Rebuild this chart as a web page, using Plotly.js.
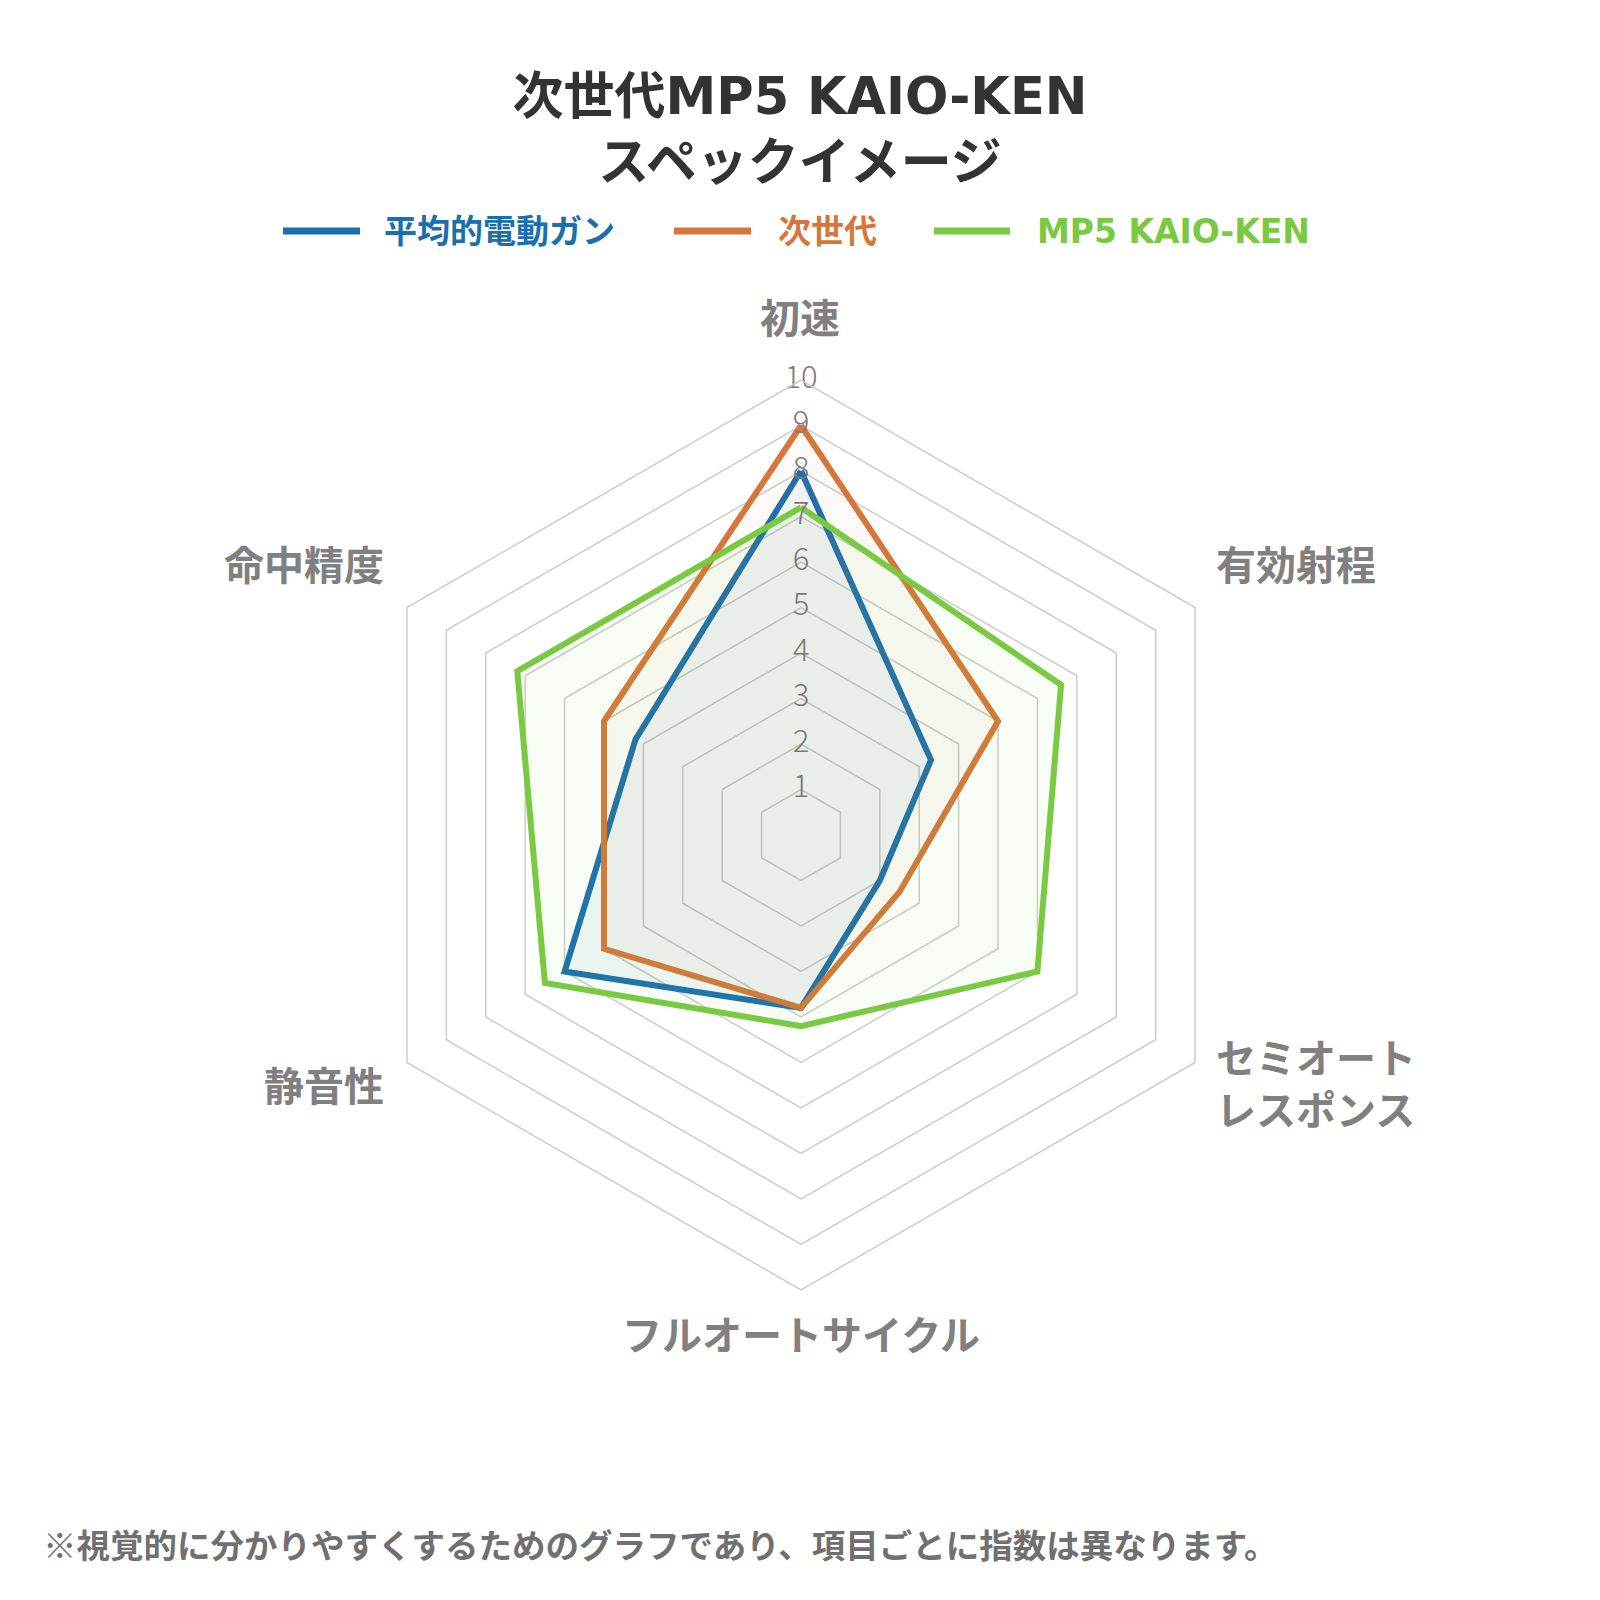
<!DOCTYPE html>
<html>
<head>
<meta charset="utf-8">
<script src="https://cdn.plot.ly/plotly-3.0.1.min.js"></script>
<style>
  body { margin: 0; background: #fff; }
  #chart { width: 1600px; height: 1600px; }
</style>
</head>
<body>
<div id="chart"></div>
<script>
// axes of the radar, clockwise from the top
var categories = ['初速', '有効射程', 'セミオート<br>レスポンス', 'フルオートサイクル', '静音性', '命中精度'];

var seriesNames = ['平均的電動ガン', '次世代', 'MP5 KAIO-KEN'];
var averageGun = [8, 3.3, 2, 3.8, 6, 4.2];
var nextGen = [9, 5, 2.5, 3.8, 5, 5];
var kaioken = [7.2, 6.6, 6, 4.2, 6.5, 7.2];

var tickValues = [1, 2, 3, 4, 5, 6, 7, 8, 9, 10];
var tickLabels = ['1', '2', '3', '4', '5', '6', '7', '8', '9', '10'];

var note = '※視覚的に分かりやすくするためのグラフであり、項目ごとに指数は異なります。';

var lineColors = ['#1b6fae', '#d5773a', '#7ac943'];
var fillColors = ['rgba(27,111,174,0.05)', 'rgba(213,119,58,0.045)', 'rgba(122,201,67,0.06)'];

var font = 'Noto Sans CJK JP, Noto Sans, sans-serif';
var mixedFont = 'DejaVu Sans, Noto Sans CJK JP, sans-serif';

// page pixels -> paper fractions (margins are zero)
function px(x) { return x / 1600; }
function py(y) { return 1 - y / 1600; }

function closed(arr) { return arr.concat([arr[0]]); }

var values = [averageGun, nextGen, kaioken];
var data = [];
for (var i = 0; i < values.length; i++) {
  data.push({
    type: 'scatterpolar',
    mode: 'lines',
    name: seriesNames[i],
    r: closed(values[i]),
    theta: closed(categories),
    fill: 'toself',
    fillcolor: fillColors[i],
    line: {color: lineColors[i], width: 6},
    hoverinfo: 'skip',
    showlegend: false
  });
}

// scale numbers sit on the top spoke, above the lines
data.push({
  type: 'scatterpolar',
  mode: 'text',
  r: tickValues,
  theta: tickValues.map(function () { return categories[0]; }),
  text: tickLabels,
  textposition: 'middle center',
  textfont: {family: font, size: 31, color: '#7a7a7a', weight: 300},
  hoverinfo: 'skip',
  showlegend: false
});

var labelFont = {family: font, size: 40, color: '#808080', weight: 'bold'};
var annotations = [
  {text: categories[0], x: px(800), y: py(316), xanchor: 'center'},
  {text: categories[1], x: px(1214), y: py(563), xanchor: 'left'},
  {text: categories[2], x: px(1214), y: py(1082), xanchor: 'left', align: 'left'},
  {text: categories[3], x: px(801), y: py(1333), xanchor: 'center'},
  {text: categories[4], x: px(386), y: py(1084), xanchor: 'right'},
  {text: categories[5], x: px(386), y: py(563), xanchor: 'right'}
].map(function (a) {
  a.xref = 'paper'; a.yref = 'paper'; a.yanchor = 'middle'; a.showarrow = false;
  a.font = labelFont;
  return a;
});

// legend drawn by hand so the swatches are long and the names coloured
var legendLine = [[283, 360], [674, 751], [934, 1010]];
var legendText = [382, 776, 1035];
var shapes = [];
for (var j = 0; j < seriesNames.length; j++) {
  shapes.push({
    type: 'line', xref: 'paper', yref: 'paper',
    x0: px(legendLine[j][0]), x1: px(legendLine[j][1]), y0: py(231), y1: py(231),
    line: {color: lineColors[j], width: 7}
  });
  annotations.push({
    text: seriesNames[j], xref: 'paper', yref: 'paper', showarrow: false,
    x: px(legendText[j]), y: py(231), xanchor: 'left', yanchor: 'middle',
    font: {family: mixedFont, size: 33, color: lineColors[j], weight: 'bold'}
  });
}

annotations.push({
  text: note, xref: 'paper', yref: 'paper', showarrow: false,
  x: px(41), y: py(1543), xanchor: 'left', yanchor: 'middle',
  font: {family: font, size: 33.5, color: '#707070', weight: 'bold'}
});

var layout = {
  width: 1600,
  height: 1600,
  margin: {l: 0, r: 0, t: 0, b: 0},
  paper_bgcolor: '#ffffff',
  showlegend: false,
  title: {
    text: '次世代MP5 KAIO-KEN<br>スペックイメージ',
    x: 0.5, xanchor: 'center',
    y: 1 - 114 / 1600, yanchor: 'middle', yref: 'container',
    font: {family: mixedFont, size: 51, color: '#333333', weight: 'bold'}
  },
  polar: {
    domain: {x: [px(801 - 455), px(801 + 455)], y: [py(835 + 455), py(835 - 455)]},
    bgcolor: '#ffffff',
    gridshape: 'linear',
    angularaxis: {
      rotation: 90,
      direction: 'clockwise',
      showgrid: false,
      showticklabels: false,
      ticks: '',
      showline: true,
      linecolor: '#cccccc',
      linewidth: 1.5
    },
    radialaxis: {
      range: [0, 10],
      dtick: 1,
      showticklabels: false,
      ticks: '',
      showline: false,
      gridcolor: '#cccccc',
      gridwidth: 1.5
    }
  },
  shapes: shapes,
  annotations: annotations
};

Plotly.newPlot('chart', data, layout, {displayModeBar: false, staticPlot: true});
</script>
</body>
</html>
